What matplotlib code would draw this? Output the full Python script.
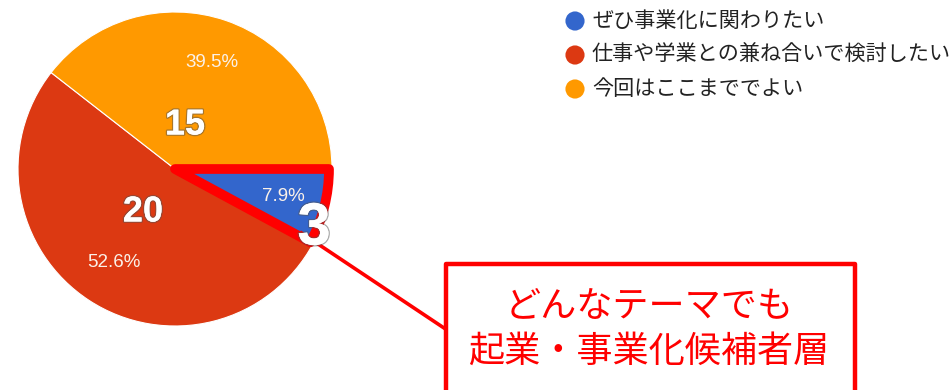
import matplotlib.pyplot as plt
import matplotlib.patheffects as pe
from matplotlib.patches import Wedge, Rectangle

plt.rcParams['font.family'] = ['Noto Sans CJK JP', 'DejaVu Sans']

labels = ['ぜひ事業化に関わりたい', '仕事や学業との兼ね合いで検討したい', '今回はここまででよい']
counts = [3, 20, 15]
colors = ['#3366cc', '#dc3912', '#ff9900']

# hand placed count labels (pixel coords, y from top)
count_pos = [(314, 229), (143, 212), (185, 125)]
count_size = [43, 26, 26]

W, H = 953, 390
cx, cy, r = 175, 169, 157


def py(y):
    return H - y


fig = plt.figure(figsize=(W / 100, H / 100), dpi=100)
ax = fig.add_axes([0, 0, 1, 1])

wedges, texts, autotexts = ax.pie(
    counts, colors=colors, startangle=0, counterclock=False,
    center=(cx, py(cy)), radius=r, autopct='%.1f%%', pctdistance=0.715,
    wedgeprops=dict(edgecolor='white', linewidth=0.8),
    textprops=dict(color='#fbf1e8', fontsize=13.5, family='Liberation Sans'))
ax.set_xlim(0, W)
ax.set_ylim(0, H)
ax.set_aspect('equal')
ax.axis('off')

# red highlight around the small slice
blue = wedges[0]
hl = Wedge((cx, py(cy)), r - 3, blue.theta1, blue.theta2, fill=False,
           edgecolor='#ff0000', linewidth=7, joinstyle='round', zorder=3)
ax.add_patch(hl)

# callout line and box
ax.plot([300, 447], [py(232), py(330)], color='#ff0000', lw=2.6, zorder=2.5,
        solid_capstyle='butt')
ax.add_patch(Rectangle((446, py(400)), 855 - 446, 400 - 264, fill=False,
                       edgecolor='#ff0000', linewidth=3.2, joinstyle='round', zorder=3))
ax.text(649, py(307), 'どんなテーマでも', color='#ff0000', fontsize=26,
        ha='center', va='center')
ax.text(649, py(352), '起業・事業化候補者層', color='#ff0000', fontsize=26,
        ha='center', va='center')

# big count numbers
for n, (x, y), fs in zip(counts, count_pos, count_size):
    t = ax.text(x, py(y), str(n), color='white', fontsize=fs, fontweight='bold',
                family='Liberation Sans', ha='center', va='center', zorder=5)
    t.set_path_effects([pe.withStroke(linewidth=2, foreground='#555555', alpha=0.5),
                        pe.Normal()])

# legend
for i, (lab, c) in enumerate(zip(labels, colors)):
    y = 21 + 34 * i
    ax.scatter([575], [py(y)], s=190, color=c, edgecolors='none', zorder=4)
    ax.text(592, py(y), lab, color='#222222', fontsize=15.2, va='center', ha='left')

plt.savefig('out.png', dpi=100)
